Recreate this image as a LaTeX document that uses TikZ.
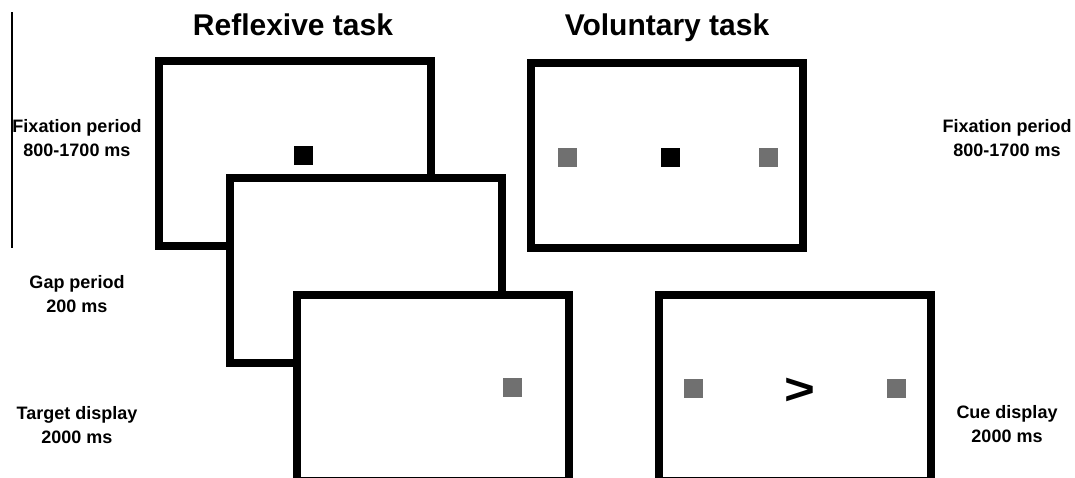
\documentclass[tikz,border=0pt]{standalone}
\usepackage{fontspec}
\setmainfont{Liberation Sans}
\usetikzlibrary{positioning}

\begin{document}
\begin{tikzpicture}[
  x=0.5pt,y=-0.5pt,
  screen/.style={draw=black,fill=white,line width=4pt,rectangle,
    minimum width=136pt,minimum height=92.5pt,inner sep=0pt},
  dot/.style={rectangle,inner sep=0pt,minimum size=9.5pt},
  fixdot/.style={dot,fill=black},
  placeholder/.style={dot,fill=black!56},
  tasktitle/.style={font=\fontsize{15}{17}\selectfont\bfseries,anchor=base},
  phase/.style={font=\fontsize{9}{12}\selectfont\bfseries,align=center}
]
  \useasboundingbox (0,0) rectangle (1075,477);
  % margin rule
  \coordinate (ruletop) at (12,12);
  \coordinate (rulebot) at (12,248);
  \draw[line width=0.6pt] (ruletop) -- (rulebot);

  \node[tasktitle] (reftitle) at (293,35) {Reflexive task};
  \node[tasktitle] (voltitle) at (667,35) {Voluntary task};

  % reflexive task, stacked screens
  \node[screen] (rfix) at (295,153) {};
  \node[fixdot] (rfixdot) at (303,155) {};
  \node[screen] (rgap) at (366,270) {};
  \node[screen,minimum height=93pt] (rtarget) at (433,387.5) {};
  \node[placeholder] (rtargetdot) at (512,387) {};

  % voluntary task screens
  \node[screen] (vfix) at (667,155) {};
  \node[placeholder] (vfixleft) at (567,157) {};
  \node[fixdot] (vfixdot) at (670,157) {};
  \node[placeholder] (vfixright) at (768,157) {};
  \node[screen,minimum height=93pt] (vcue) at (795,387.5) {};
  \node[placeholder] (vcueleft) at (693,388) {};
  \node[font=\fontsize{22}{22}\selectfont\bfseries,inner sep=0pt,xscale=1.2] (arrowcue) at (800,391) {>};
  \node[placeholder] (vcueright) at (896,388) {};

  % phase labels
  \node[phase] (rfixlbl) at (77,138) {Fixation period\\800-1700 ms};
  \node[phase] (rgaplbl) at (77,294) {Gap period\\200 ms};
  \node[phase] (rtargetlbl) at (77,425) {Target display\\2000 ms};
  \node[phase] (vfixlbl) at (1007,138) {Fixation period\\800-1700 ms};
  \node[phase] (vcuelbl) at (1007,424) {Cue display\\2000 ms};
\end{tikzpicture}
\end{document}
